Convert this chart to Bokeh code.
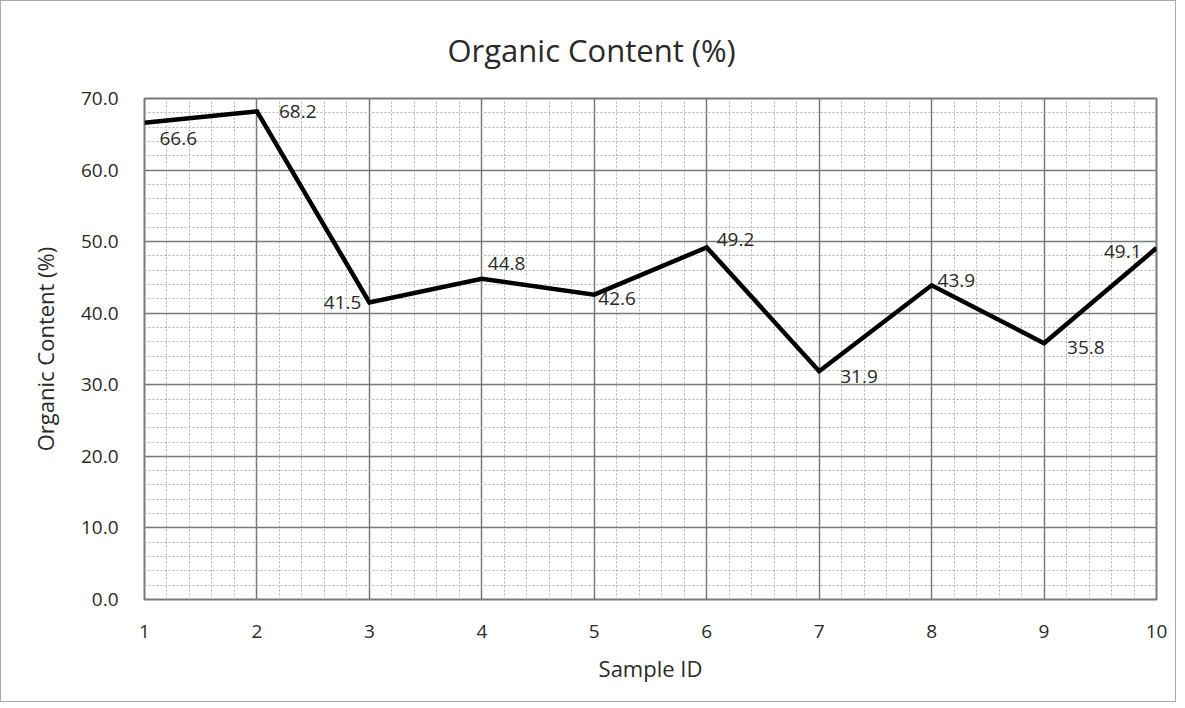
from bokeh.plotting import figure
from bokeh.models import ColumnDataSource, Range1d, FixedTicker, LabelSet, Title, PrintfTickFormatter
from bokeh.core.properties import value
from bokeh.embed import file_html
from bokeh.resources import INLINE

sample_ids = [1, 2, 3, 4, 5, 6, 7, 8, 9, 10]
organic = [66.6, 68.2, 41.5, 44.8, 42.6, 49.2, 31.9, 43.9, 35.8, 49.1]
labels = ["66.6", "68.2", "41.5", "44.8", "42.6", "49.2", "31.9", "43.9", "35.8", "49.1"]
y_ticks = [0, 10, 20, 30, 40, 50, 60, 70]

# label placement styling (pixel offsets / alignment)
dx = [15, 22, -8, 6, 4, 10, 21, 6, 23, -15]
dy = [-16, 0, 0, 15, -4, 8, -5, 5, -4, -3]
align = ["left", "left", "right", "left", "left", "left", "left", "left", "left", "right"]

FONT = "Open Sans"
TXT = "#2a2a2a"

p = figure(width=1176, height=702, output_backend="svg", toolbar_location=None,
           x_range=Range1d(1, 10), y_range=Range1d(0, 70),
           min_border_left=143, min_border_right=21, min_border_top=97, min_border_bottom=104)
p.styles = {"border": "1px solid #aaaaaa"}

p.line(sample_ids, organic, line_color="black", line_width=4.5, line_join="miter")

src = ColumnDataSource(dict(x=sample_ids, y=organic, t=labels, dx=dx, dy=dy, a=align))
p.add_layout(LabelSet(x="x", y="y", text="t", x_offset="dx", y_offset="dy", source=src,
                      text_align="a", text_font=value(FONT), text_font_size="19px",
                      text_color=TXT, text_baseline="middle"))

p.xaxis.ticker = FixedTicker(ticks=sample_ids, minor_ticks=[1 + i * 0.2 for i in range(46)])
p.yaxis.ticker = FixedTicker(ticks=y_ticks, minor_ticks=list(range(0, 71, 2)))
p.yaxis.formatter = PrintfTickFormatter(format="%.1f")

for ax in (p.xaxis[0], p.yaxis[0]):
    ax.axis_line_color = None
    ax.major_tick_line_color = None
    ax.minor_tick_line_color = None
    ax.major_label_text_font = FONT
    ax.major_label_text_font_size = "19px"
    ax.major_label_text_color = TXT
    ax.axis_label_text_font = FONT
    ax.axis_label_text_font_size = "22px"
    ax.axis_label_text_font_style = "normal"
    ax.axis_label_text_color = TXT
p.xaxis.major_label_standoff = 19
p.yaxis.major_label_standoff = 20
p.xaxis.axis_label = "Sample ID"
p.yaxis.axis_label = "Organic Content (%)"
p.xaxis.axis_label_standoff = 12
p.yaxis.axis_label_standoff = 18

for g in (p.xgrid[0], p.ygrid[0]):
    g.grid_line_color = "#7a7a7a"
    g.grid_line_width = 1.5
    g.minor_grid_line_color = "#b0b0b0"
    g.minor_grid_line_width = 1
    g.minor_grid_line_dash = "2 2"

p.outline_line_color = "#7a7a7a"
p.outline_line_width = 2

p.title.text = ""
title = Title(text="Organic Content (%)", text_font=FONT, text_font_size="31px",
              text_font_style="normal", text_color=TXT, align="left", offset=303,
              standoff=52, vertical_align="top")
p.add_layout(title, "above")

open("out.html", "w").write(file_html(p, INLINE))
